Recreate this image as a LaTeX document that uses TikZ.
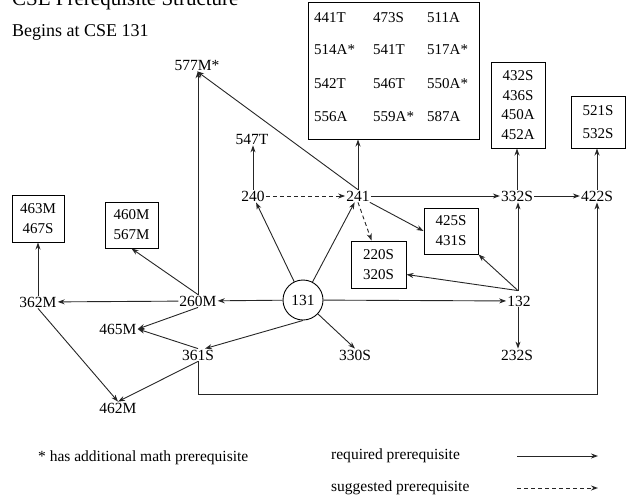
\documentclass[tikz,border=0pt]{standalone}
\usepackage{fontspec}
\setmainfont{Liberation Serif}
\usetikzlibrary{arrows.meta}
\begin{document}
\begin{tikzpicture}[x=1pt,y=-1pt,
 lbl/.style={inner sep=1pt, font=\fontsize{15.5}{18}\selectfont},
 cell/.style={inner sep=0pt, anchor=west, font=\fontsize{15}{18}\selectfont},
 box/.style={draw, line width=1pt, align=center, inner sep=0pt, font=\fontsize{15}{20}\selectfont},
 legend/.style={anchor=west, inner sep=0pt, font=\fontsize{15.5}{18}\selectfont},
 req/.style={line width=0.9pt, draw=black!85, -{Stealth[length=7pt,width=5pt]}},
 sug/.style={line width=0.9pt, draw=black!85, dash pattern=on 4pt off 3pt, -{Stealth[open,length=7pt,width=5pt]}},
]
\useasboundingbox (0,0) rectangle (628,498);

% titles
\node[anchor=base west, inner sep=0pt, font=\fontsize{21}{24}\selectfont] (title) at (12,5) {CSE Prerequisite Structure};
\node[anchor=base west, inner sep=0pt, font=\fontsize{18}{20}\selectfont] (begins) at (12,36) {Begins at CSE 131};

% course nodes
\node[lbl] (n577) at (197,65) {577M*};
\node[lbl] (n547) at (252,139) {547T};
\node[lbl] (n240) at (253,196) {240};
\node[lbl] (n241) at (358,196) {241};
\node[lbl] (n332) at (517,196) {332S};
\node[lbl] (n422) at (597,196) {422S};
\node[lbl, draw, circle, minimum size=40pt, inner sep=0pt, line width=0.9pt] (n131) at (303,300) {131};
\node[lbl] (n132) at (519,301) {132};
\node[lbl] (n232) at (517,355) {232S};
\node[lbl] (n330) at (355,355) {330S};
\node[lbl] (n260) at (198,301) {260M};
\node[lbl] (n362) at (38,302) {362M};
\node[lbl] (n465) at (118,329) {465M};
\node[lbl] (n361) at (198,355) {361S};
\node[lbl] (n462) at (118,408) {462M};

% boxes
\node[box, minimum width=171pt, minimum height=137pt] (big) at (393.5,70.5) {};
\node[cell] (c11) at (314,18) {441T};
\node[cell] (c12) at (373,18) {473S};
\node[cell] (c13) at (427,18) {511A};
\node[cell] (c21) at (314,50) {514A*};
\node[cell] (c22) at (373,50) {541T};
\node[cell] (c23) at (427,50) {517A*};
\node[cell] (c31) at (314,84) {542T};
\node[cell] (c32) at (373,84) {546T};
\node[cell] (c33) at (427,84) {550A*};
\node[cell] (c41) at (314,117) {556A};
\node[cell] (c42) at (373,117) {559A*};
\node[cell] (c43) at (427,117) {587A};

\node[box, minimum width=54pt, minimum height=86pt] (b332) at (518,105) {432S\\[-0.5pt]436S\\[-0.5pt]450A\\[-0.5pt]452A};
\node[box, minimum width=54pt, minimum height=52pt] (b422) at (598,122) {521S\\[3pt]532S};
\node[box, minimum width=54pt, minimum height=46pt] (b425) at (451,231) {425S\\431S};
\node[box, minimum width=55pt, minimum height=47pt] (b220) at (378.5,264.5) {220S\\320S};
\node[box, minimum width=52pt, minimum height=47pt] (b463) at (38,218.5) {463M\\467S};
\node[box, minimum width=53pt, minimum height=46pt] (b460) at (131.5,225) {460M\\567M};

% connectors
\draw[req] (n131) -- (n240);
\draw[req] (n131) -- (n241);
\draw[req] (n131) -- (n260);
\draw[req] (n131) -- (n132);
\draw[req] (n131.south) -- ([xshift=7pt]n361.north);
\draw[req] (n131) -- (n330.north);
\draw[sug] (n240) -- (n241);
\draw[req] (n240.north) -- (n240.north |- n547.south);
\draw[req] (n241) -- (n332);
\draw[req] (n241.north) -- (n241.north |- big.south);
\draw[req] (n241.north) -- (n577.south);
\draw[req] (n241) -- (b425.west);
\draw[sug] (n241.south) -- ([xshift=-7pt]b220.north);
\draw[req] (n332) -- (n422);
\draw[req] (n332.north) -- (n332.north |- b332.south);
\draw[req] (n422.north) -- (n422.north |- b422.south);
\coordinate (j132) at ([xshift=-1pt,yshift=4pt]n132.north);
\draw[req] (j132) -- (j132 |- n332.south);
\draw[req] (j132) -- (b425.south east);
\draw[req] (j132) -- ([yshift=-10pt]b220.east);
\draw[req] (n132.south -| j132) -- (n232.north -| j132);
\draw[req] (n260) -- (n362);
\draw[req] (n260.north) -- (n260.north |- n577.south);
\draw[req] (n260.north) -- (b460.south);
\draw[req] (n260.south) -- (n465.east);
\draw[req] (n361.north) -- (n465.east);
\draw[req] (n361.south) -- (n462.north);
\draw[req] (n362.south) -- (n462.north);
\draw[req] (n362.north) -- (n362.north |- b463.south);
\coordinate (bot) at (0,394);
\draw[req] (n361.south) -- (n361.south |- bot) -| (n422.south);

% legend
\node[legend] (note) at (38,458) {* has additional math prerequisite};
\node[legend] (lreq) at (331,456) {required prerequisite};
\node[legend] (lsug) at (331,488) {suggested prerequisite};
\coordinate (a1) at (517,456);
\coordinate (a2) at (598,456);
\coordinate (s1) at (517,488);
\coordinate (s2) at (598,488);
\draw[req] (a1) -- (a2);
\draw[sug] (s1) -- (s2);
\end{tikzpicture}
\end{document}
